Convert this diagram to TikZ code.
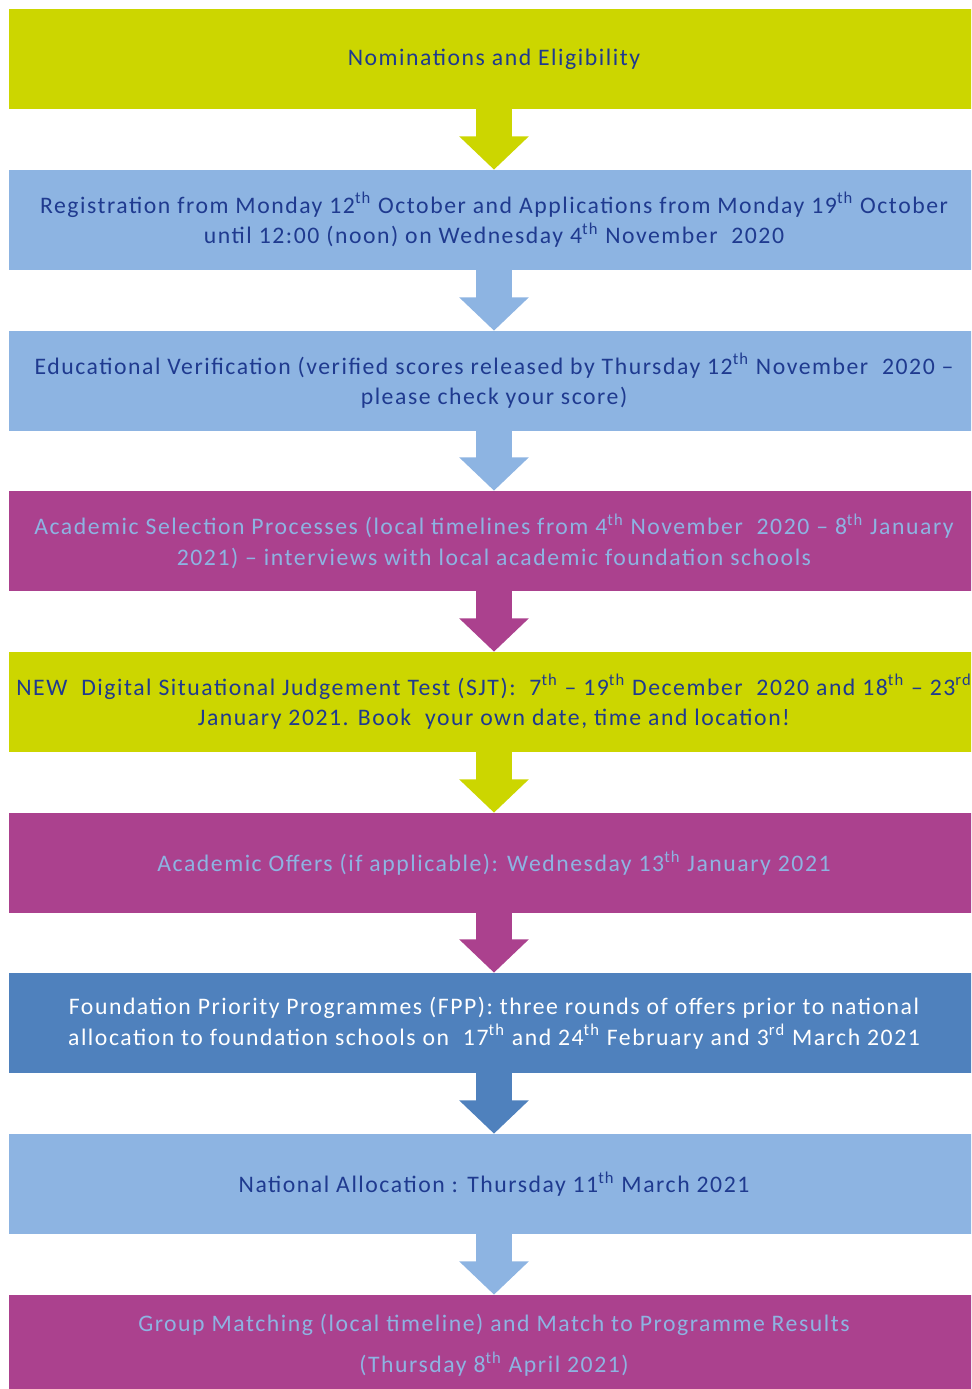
\documentclass[tikz,border=0pt]{standalone}
\usepackage{fontspec}
\setmainfont[LetterSpace=6.5]{Carlito}
\usepackage{tikz}
\usetikzlibrary{arrows.meta}
\definecolor{fplime}{HTML}{CCD600}
\definecolor{fpsky}{HTML}{8DB4E2}
\definecolor{fpplum}{HTML}{AB418E}
\definecolor{fpblue}{HTML}{4F81BD}
\definecolor{fpnavy}{HTML}{1F3A8F}
\newcommand{\st}[1]{\textsuperscript{#1}}

\begin{document}
\begin{tikzpicture}[x=0.02cm, y=-0.02cm,
    stage/.style={minimum width=19.4cm, minimum height=2cm, inner sep=0pt,
      align=center, font=\fontsize{13.5}{17.5}\selectfont, text=fpnavy},
    flow/.style={line width=20.4pt, -{Triangle[length=19pt, width=38.6pt]}}]
        \clip (0,0) rectangle (971,1389);
        \node[stage, fill=fplime] (n1) at (494,59) {Nominations and Eligibility};
        \node[stage, fill=fpsky] (n2) at (494,220) {Registration from Monday 12\st{th} October and Applications from Monday 19\st{th} October\\ until 12:00 (noon) on Wednesday 4\st{th} November~ 2020};
        \node[stage, fill=fpsky] (n3) at (494,381) {Educational Verification (verified scores released by Thursday 12\st{th} November~ 2020 --\\ please check your score)};
        \node[stage, fill=fpplum, text=fpsky] (n4) at (494,541) {Academic Selection Processes (local timelines from 4\st{th} November~ 2020 -- 8\st{th} January\\ 2021) -- interviews with local academic foundation schools};
        \node[stage, fill=fplime] (n5) at (494,702) {NEW~ Digital Situational Judgement Test (SJT):~ 7\st{th} -- 19\st{th} December~ 2020 and 18\st{th} -- 23\st{rd}\\ January 2021. Book~ your own date, time and location!};
        \node[stage, fill=fpplum, text=fpsky] (n6) at (494,863) {Academic Offers (if applicable): Wednesday 13\st{th} January 2021};
        \node[stage, fill=fpblue, text=white] (n7) at (494,1023) {Foundation Priority Programmes (FPP): three rounds of offers prior to national\\ allocation to foundation schools on~ 17\st{th} and 24\st{th} February and 3\st{rd} March 2021};
        \node[stage, fill=fpsky] (n8) at (494,1184) {National Allocation : Thursday 11\st{th} March 2021};
        \node[stage, fill=fpplum, text=fpsky] (n9) at (494,1345) {Group Matching (local timeline) and Match to Programme Results\\[6pt] (Thursday 8\st{th} April 2021)};
        % arrows between stages
        \foreach \a/\b/\c in {n1/n2/fplime, n2/n3/fpsky, n3/n4/fpsky, n4/n5/fpplum,
            n5/n6/fplime, n6/n7/fpplum, n7/n8/fpblue, n8/n9/fpsky}
          \draw[flow, \c] (\a.south) -- (\b.north);
      \end{tikzpicture}
\end{document}
